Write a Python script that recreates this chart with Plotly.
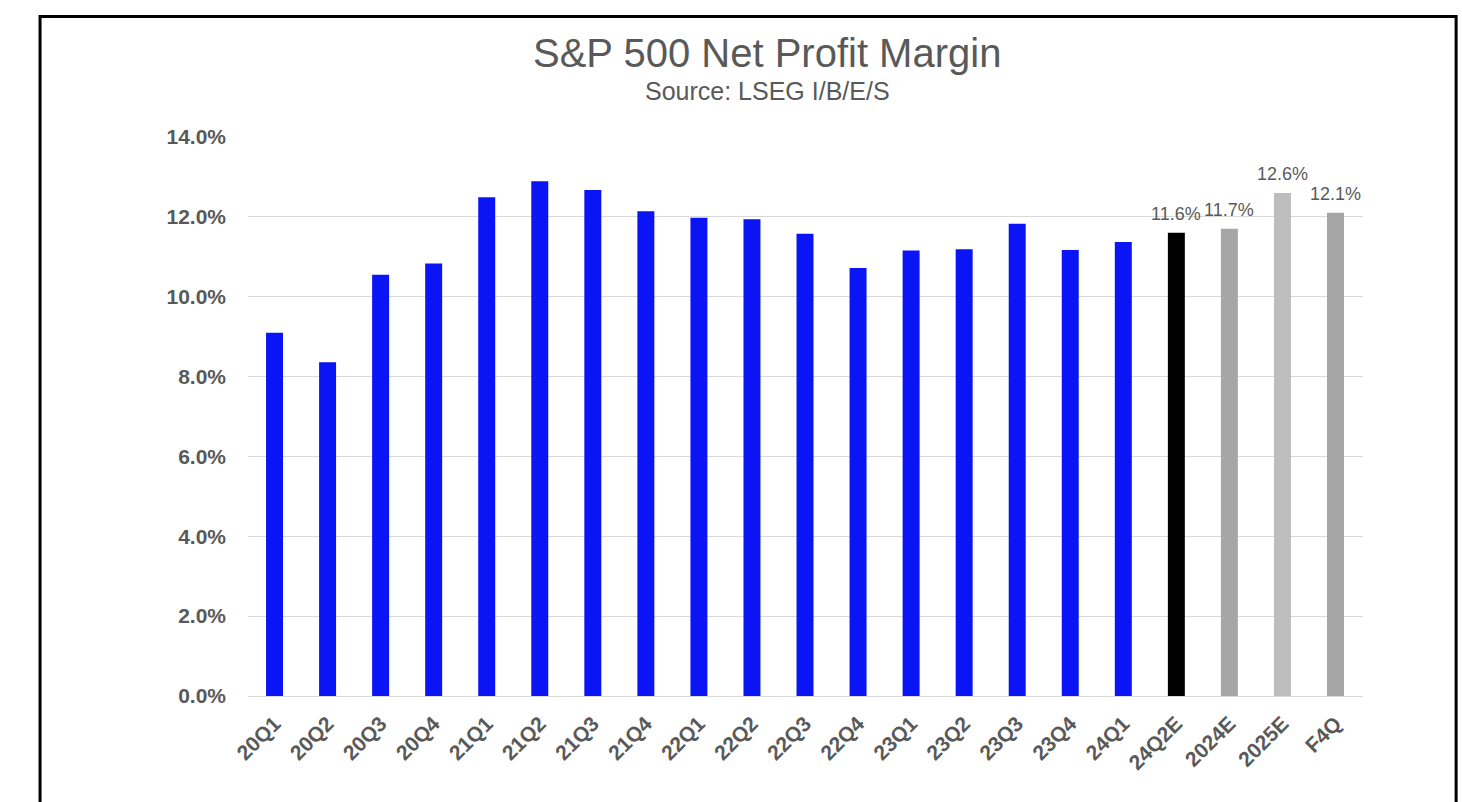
import plotly.graph_objects as go

# S&P 500 net profit margin by quarter, with estimates (percent)
categories = ["20Q1", "20Q2", "20Q3", "20Q4", "21Q1", "21Q2", "21Q3", "21Q4",
              "22Q1", "22Q2", "22Q3", "22Q4", "23Q1", "23Q2", "23Q3", "23Q4",
              "24Q1", "24Q2E", "2024E", "2025E", "F4Q"]
margins = [9.10, 8.36, 10.55, 10.83, 12.49, 12.89, 12.67, 12.14,
           11.98, 11.94, 11.58, 10.72, 11.16, 11.19, 11.83, 11.17,
           11.37, 11.6, 11.7, 12.6, 12.1]
bar_colors = ["#0a14f5"] * 17 + ["#000000", "#a6a6a6", "#bdbdbd", "#a6a6a6"]
labeled = ["24Q2E", "2024E", "2025E", "F4Q"]
y_ticks = [0, 2, 4, 6, 8, 10, 12, 14]

GREY_TEXT = "#595959"
FONT = "Liberation Sans, Arial, sans-serif"

fig = go.Figure(
    go.Bar(
        x=categories,
        y=margins,
        marker=dict(color=bar_colors, line=dict(width=0)),
        hovertemplate="%{x}: %{y:.1f}%<extra></extra>",
    )
)

# value labels above the estimate bars
for cat, val in zip(categories, margins):
    if cat in labeled:
        fig.add_annotation(
            x=cat, y=val, text=f"{val:.1f}%", showarrow=False,
            yanchor="bottom", yshift=7,
            font=dict(family=FONT, size=18, color=GREY_TEXT),
        )

# title and source line
fig.add_annotation(
    xref="paper", yref="paper", x=0.4655, y=1.151, yanchor="middle",
    text="S&P 500 Net Profit Margin", showarrow=False,
    font=dict(family=FONT, size=40, color=GREY_TEXT),
)
fig.add_annotation(
    xref="paper", yref="paper", x=0.4655, y=1.082, yanchor="middle",
    text="Source: LSEG I/B/E/S", showarrow=False,
    font=dict(family=FONT, size=25, color=GREY_TEXT),
)

# outer frame
fig.add_shape(
    type="rect", xref="paper", yref="paper",
    x0=-0.1865, x1=1.0835, y0=-0.25, y1=1.2155,
    line=dict(color="#000000", width=3), fillcolor="rgba(0,0,0,0)",
    layer="above",
)

fig.update_layout(
    width=1462, height=802,
    margin=dict(l=248, r=99, t=137, b=106),
    paper_bgcolor="#ffffff", plot_bgcolor="#ffffff",
    bargap=0.68,
    showlegend=False,
    font=dict(family=FONT, color=GREY_TEXT),
)
fig.update_xaxes(
    tickangle=-45,
    tickfont=dict(family=FONT, size=21, color=GREY_TEXT, weight="bold"),
    showgrid=False, showline=True, linecolor="#d9d9d9", linewidth=1,
    ticks="", ticklabelstandoff=6,
)
fig.update_yaxes(
    range=[0, 14], tickvals=y_ticks,
    ticktext=[f"{t:.1f}%" for t in y_ticks],
    tickfont=dict(family=FONT, size=21, color=GREY_TEXT, weight="bold"),
    showgrid=True, gridcolor="#d9d9d9", gridwidth=1,
    zeroline=False, showline=False, ticks="", ticklabelstandoff=21,
)

fig.write_html("out.html")
